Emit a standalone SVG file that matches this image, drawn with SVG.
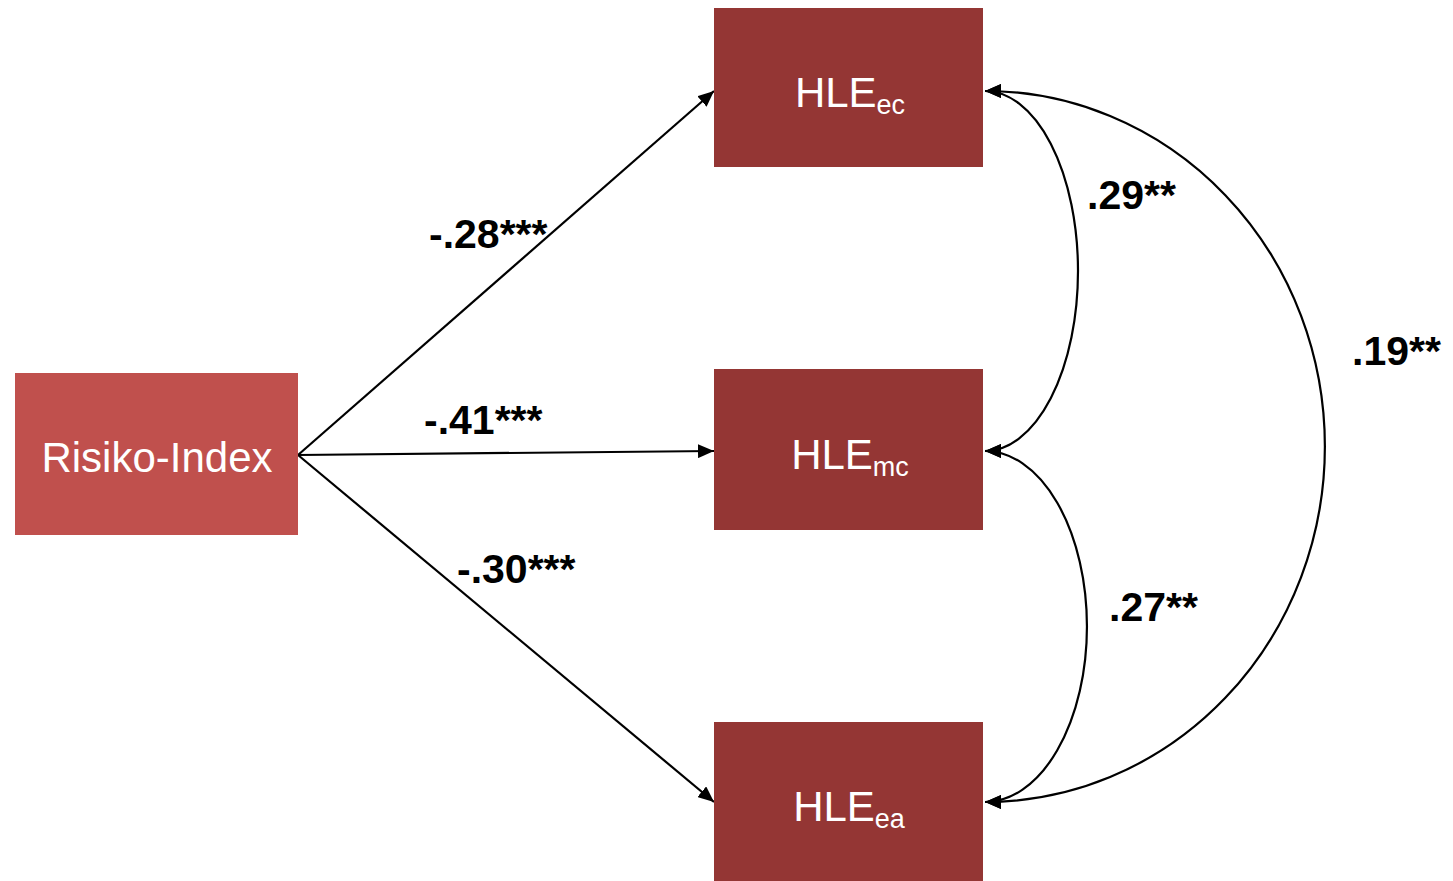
<svg xmlns="http://www.w3.org/2000/svg" width="1453" height="881" viewBox="0 0 1453 881">
<style>
.box-dark{fill:#943634}
.box-light{fill:#C0504D}
.ntext{font-family:"Liberation Sans",Arial,sans-serif;fill:#ffffff;font-size:42px}
.sub{font-size:27px}
.lbl{font-family:"Liberation Sans",Arial,sans-serif;font-weight:bold;font-size:41px;fill:#000}
.conn{fill:none;stroke:#000;stroke-width:2.2}
</style>
<defs>
<marker id="arr" viewBox="0 0 16 14" refX="16" refY="7" markerWidth="16" markerHeight="14" markerUnits="userSpaceOnUse" orient="auto-start-reverse">
<path d="M0,0 L16,7 L0,14 Z" fill="#000"/>
</marker>
</defs>
<rect width="1453" height="881" fill="#fff"/>
<g id="connectors">
<path class="conn" d="M298,455 L714,91" marker-end="url(#arr)"/>
<path class="conn" d="M298,455 L714,451" marker-end="url(#arr)"/>
<path class="conn" d="M298,455 L714,802" marker-end="url(#arr)"/>
<path class="conn" d="M985,91 A93,180 0 0 1 985,451" marker-start="url(#arr)" marker-end="url(#arr)"/>
<path class="conn" d="M985,451 A102,175.5 0 0 1 985,802" marker-start="url(#arr)" marker-end="url(#arr)"/>
<path class="conn" d="M985,91 A340,355.5 0 0 1 985,802" marker-start="url(#arr)" marker-end="url(#arr)"/>
</g>
<g id="labels">
<text class="lbl" x="429" y="248">-.28***</text>
<text class="lbl" x="424" y="434">-.41***</text>
<text class="lbl" x="457" y="583">-.30***</text>
<text class="lbl" x="1087" y="209">.29**</text>
<text class="lbl" x="1109" y="621">.27**</text>
<text class="lbl" x="1352" y="365">.19**</text>
</g>
<g id="risiko">
<rect class="box-light" x="15" y="373" width="283" height="162"/>
<text class="ntext" x="157" y="472" text-anchor="middle">Risiko-Index</text>
</g>
<g id="hle-ec">
<rect class="box-dark" x="714" y="8" width="269" height="159"/>
<text class="ntext" x="850" y="107" text-anchor="middle">HLE<tspan class="sub" dy="7">ec</tspan></text>
</g>
<g id="hle-mc">
<rect class="box-dark" x="714" y="369" width="269" height="161"/>
<text class="ntext" x="850" y="469" text-anchor="middle">HLE<tspan class="sub" dy="7">mc</tspan></text>
</g>
<g id="hle-ea">
<rect class="box-dark" x="714" y="722" width="269" height="159"/>
<text class="ntext" x="849" y="821" text-anchor="middle">HLE<tspan class="sub" dy="7">ea</tspan></text>
</g>
</svg>
